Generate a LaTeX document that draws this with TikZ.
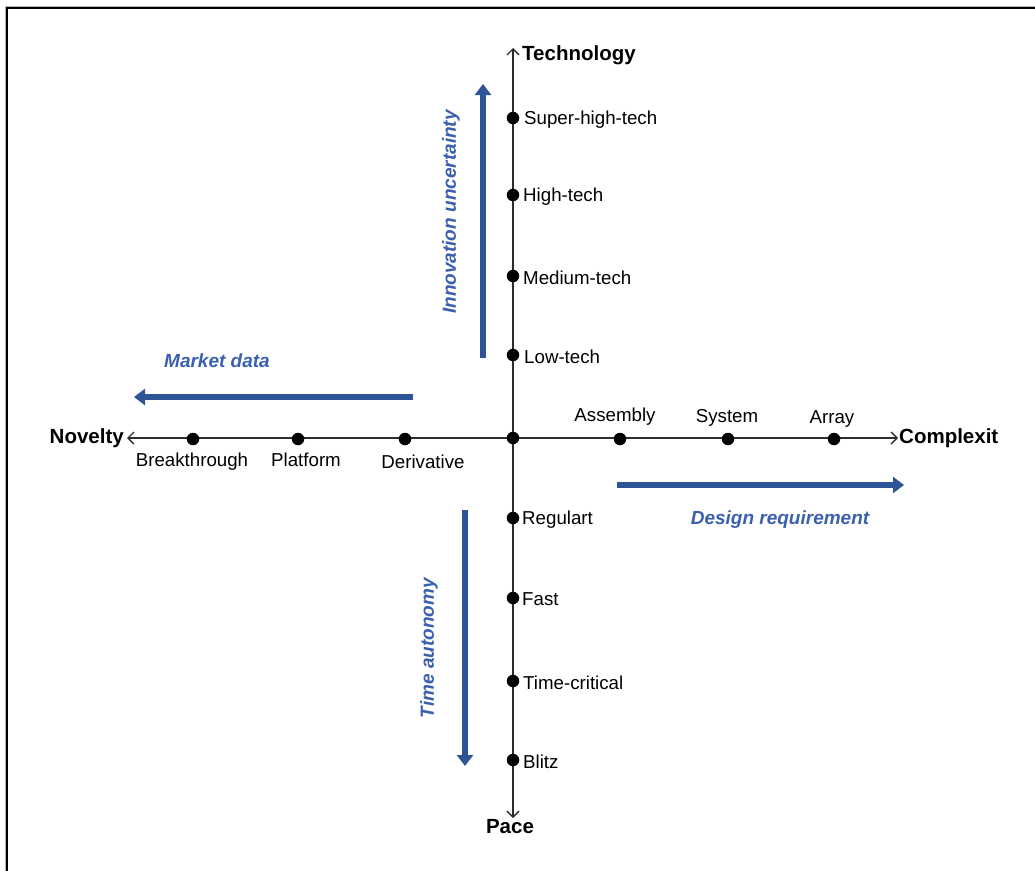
\documentclass[tikz,border=0pt]{standalone}
\usepackage{fontspec}
\setmainfont{Liberation Sans}
\usetikzlibrary{arrows.meta}
\definecolor{axisgray}{RGB}{45,45,45}
\definecolor{flowblue}{RGB}{46,84,152}
\definecolor{labelblue}{RGB}{58,96,174}
\begin{document}
\begin{tikzpicture}[x=1pt,y=-1pt,
  dot/.style={circle,fill=black,inner sep=0pt,minimum size=12.5pt},
  lbl/.style={font=\fontsize{18.7}{20}\selectfont,inner sep=0pt},
  axislbl/.style={font=\fontsize{20.5}{22}\selectfont\bfseries,inner sep=0pt},
  flowlbl/.style={font=\fontsize{19}{22}\selectfont\bfseries\itshape,text=labelblue,inner sep=0pt},
  axisline/.style={draw=axisgray,line width=1.4pt,{Straight Barb[length=6pt,width=12pt]}-{Straight Barb[length=6pt,width=12pt]}},
  flow/.style={draw=flowblue,line width=6pt,-{Triangle[length=11pt,width=16pt]}}]
\useasboundingbox (0,0) rectangle (1035,870);
\clip (0,0) rectangle (1035,870);

% frame (open to the right and bottom)
\draw[gray!60,line width=1pt] (5,880) -- (5,6) -- (1040,6);
\draw[black,line width=2.4pt] (7.2,880) -- (7.2,8.2) -- (1040,8.2);

% axis end points
\coordinate (techEnd) at (513,48);
\coordinate (paceEnd) at (513,818);
\coordinate (novEnd) at (127,438);
\coordinate (cxEnd) at (898,438);

\draw[axisline] (paceEnd) -- (techEnd);
\draw[axisline] (novEnd) -- (cxEnd);

% axis titles
\node[axislbl,anchor=west] (tech) at (522,55) {Technology};
\node[axislbl] (pace) at (510,827) {Pace};
\node[axislbl,anchor=east] (nov) at (124,438) {Novelty};
\node[axislbl,anchor=west] (cx) at (899,438) {Complexit};

% origin
\node[dot] (o) at (513,438) {};

% technology levels
\node[dot] (sht) at (513,118) {};
\node[dot] (ht) at (513,195) {};
\node[dot] (mt) at (513,276) {};
\node[dot] (lt) at (513,355) {};
\node[lbl,anchor=west] at (524,119.5) {Super-high-tech};
\node[lbl,anchor=west] at (523,196.5) {High-tech};
\node[lbl,anchor=west] at (523,277.5) {Medium-tech};
\node[lbl,anchor=west] at (524,356.5) {Low-tech};

% pace levels
\node[dot] (reg) at (513,518) {};
\node[dot] (fast) at (513,598) {};
\node[dot] (tc) at (513,681) {};
\node[dot] (blitz) at (513,760) {};
\node[lbl,anchor=west] at (522,519.5) {Regulart};
\node[lbl,anchor=west] at (522,599.5) {Fast};
\node[lbl,anchor=west] at (523,682.5) {Time-critical};
\node[lbl,anchor=west] at (523,761.5) {Blitz};

% novelty levels
\node[dot] (brk) at (193,439) {};
\node[dot] (plat) at (298,439) {};
\node[dot] (deriv) at (405,439) {};
\node[lbl] at (192,462) {Breakthrough};
\node[lbl] at (306,460) {Platform};
\node[lbl] at (423,462) {Derivative};

% complexity levels
\node[dot] (asm) at (620,439) {};
\node[dot] (sys) at (728,439) {};
\node[dot] (arr) at (834,439) {};
\node[lbl] at (615,417) {Assembly};
\node[lbl] at (727,418) {System};
\node[lbl] at (832,419) {Array};

% blue trend arrows
\coordinate (iuA) at (483,358);
\coordinate (iuB) at (483,84);
\coordinate (mdA) at (413,397);
\coordinate (mdB) at (134,397);
\coordinate (drA) at (617,485);
\coordinate (drB) at (904,485);
\coordinate (taA) at (465,510);
\coordinate (taB) at (465,766);
\draw[flow] (iuA) -- (iuB);
\draw[flow] (mdA) -- (mdB);
\draw[flow] (drA) -- (drB);
\draw[flow] (taA) -- (taB);

\node[flowlbl,rotate=90] (iu) at (451,212) {Innovation uncertainty};
\node[flowlbl] (md) at (217,361) {Market data};
\node[flowlbl] (dr) at (780,520) {Design requirement};
\node[flowlbl,rotate=90] (ta) at (429,648) {Time autonomy};
\end{tikzpicture}
\end{document}
